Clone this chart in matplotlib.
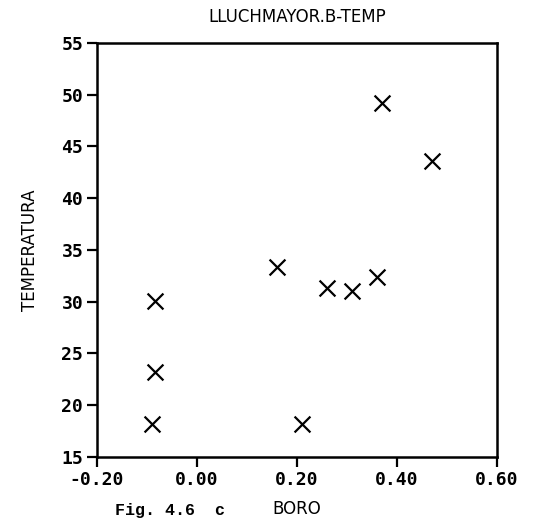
import matplotlib
matplotlib.use("Agg")
import matplotlib.pyplot as plt

# data
boro = [-0.085, -0.085, -0.09, 0.16, 0.21, 0.26, 0.31, 0.36, 0.37, 0.47]
temp = [30.1, 23.2, 18.2, 33.4, 18.2, 31.3, 31.0, 32.4, 49.2, 43.6]

x_ticks = [-0.2, 0.0, 0.2, 0.4, 0.6]
x_labels = ["-0.20", "0.00", "0.20", "0.40", "0.60"]
y_ticks = [15, 20, 25, 30, 35, 40, 45, 50, 55]

fig = plt.figure(figsize=(5.39, 5.24), dpi=100)
ax = fig.add_axes([0.18, 0.128, 0.742, 0.79])

ax.scatter(boro, temp, marker="x", s=130, color="black", linewidths=1.6)

ax.set_xlim(-0.2, 0.6)
ax.set_ylim(15, 55)
ax.set_xticks(x_ticks)
ax.set_xticklabels(x_labels)
ax.set_yticks(y_ticks)

mono = "DejaVu Sans Mono"
for lab in ax.get_xticklabels() + ax.get_yticklabels():
    lab.set_family(mono)
    lab.set_fontsize(13)
    lab.set_fontweight("bold")

ax.tick_params(direction="out", length=7, width=1.6, color="black", pad=3)
for sp in ax.spines.values():
    sp.set_linewidth(1.8)

ax.set_title("LLUCHMAYOR.B-TEMP", fontsize=12, family="DejaVu Sans", pad=15)
ax.set_xlabel("BORO", fontsize=12, labelpad=8)
ax.set_ylabel("TEMPERATURA", fontsize=12, labelpad=16)

# caption under the plot, typewriter style
fig.text(0.213, 0.018, "Fig. 4.6  c", family="Liberation Mono",
         fontweight="bold", fontsize=12)

fig.savefig("out.png", dpi=100)
